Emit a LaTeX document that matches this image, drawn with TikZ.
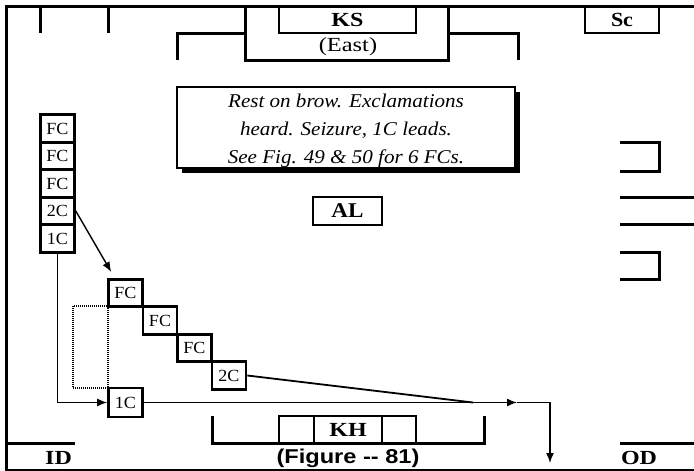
\documentclass[tikz,border=0pt]{standalone}
\usepackage{fontspec}
\setmainfont{Liberation Serif}
\newfontfamily\arialf{Liberation Sans}
\usetikzlibrary{arrows.meta}
\newcommand{\hsc}[2]{\scalebox{#1}[1]{#2}}
\begin{document}
\begin{tikzpicture}[x=1pt,y=-1pt,
  struct/.style={line width=3pt},
  cbox/.style={draw,line width=2.6pt,inner sep=0pt,minimum width=34pt,minimum height=27.5pt,font=\fontsize{17}{17}\selectfont},
  lbox/.style={draw,line width=2.8pt,inner sep=0pt},
  bfont/.style={font=\fontsize{20}{20}\selectfont\bfseries},
  arr/.style={line width=1.4pt,-{Latex[length=10pt,width=8pt]}},
  conn/.style={line width=1.4pt}]
\useasboundingbox (0,0) rectangle (694,471);
% frame
\draw[struct] (694,6) -- (6,6) -- (6,471);
\draw[line width=1.5pt] (5,470) -- (694,470);
% top ticks
\draw[struct] (40,6) -- (40,33);
\draw[struct] (108,6) -- (108,33);
% KS structure
\draw[struct] (245,6) -- (245,60) -- (448,60) -- (448,6);
\draw[struct] (245,33) -- (177,33) -- (177,60);
\draw[struct] (448,33) -- (518,33) -- (518,60);
\node[lbox,minimum width=137pt,minimum height=27pt,bfont] (ks) at (347.5,19.5) {\hsc{1.2}{KS}};
\node[font=\fontsize{20}{20}\selectfont] (east) at (348,46.5) {\hsc{1.22}{(East)}};
% Sc
\node[lbox,minimum width=74pt,minimum height=27pt,bfont] (sc) at (622,19.5) {\hsc{1.1}{Sc}};
% note box with shadow
\fill[black] (182,92) rectangle (520,173);
\node[draw,fill=white,line width=1.3pt,minimum width=338pt,minimum height=81pt,inner sep=0pt] (note) at (346,127.5) {};
\node[inner sep=0pt,align=center,font=\fontsize{19.5}{28}\selectfont\itshape] (notetext) at (346,131)
  {\hsc{1.08}{Rest on brow. Exclamations}\\\hsc{1.08}{heard. Seizure, 1C leads.}\\\hsc{1.08}{See Fig. 49 \& 50 for 6 FCs.}};
% AL
\node[lbox,minimum width=69pt,minimum height=28pt,font=\fontsize{21}{21}\selectfont\bfseries] (al) at (347.5,211) {\hsc{1.1}{AL}};
% left stack
\node[cbox] (l1) at (57.5,128.5) {\hsc{1.06}{FC}};
\node[cbox] (l2) at (57.5,156) {\hsc{1.06}{FC}};
\node[cbox] (l3) at (57.5,183.5) {\hsc{1.06}{FC}};
\node[cbox] (l4) at (57.5,211) {\hsc{1.06}{2C}};
\node[cbox] (l5) at (57.5,238.5) {\hsc{1.06}{1C}};
% staircase
\node[cbox] (s1) at (125.5,293) {\hsc{1.06}{FC}};
\node[cbox] (s2) at (160,320.5) {\hsc{1.06}{FC}};
\node[cbox] (s3) at (194.5,348) {\hsc{1.06}{FC}};
\node[cbox] (s4) at (229,375.5) {\hsc{1.06}{2C}};
\node[cbox,minimum height=29pt] (b1) at (125.5,402.5) {\hsc{1.06}{1C}};
% dotted rectangle
\draw[line width=2.2pt,dash pattern=on 1pt off 1pt] (73,306) rectangle (108,388);
% connectors
\draw[arr] (l4.east) -- ([xshift=4pt,yshift=6pt]s1.north west);
\draw[arr] (l5.south) |- (b1.west);
\coordinate (j) at (473,402.5);
\coordinate (m) at (517,402.5);
\coordinate (c) at (550,402.5);
\coordinate (e) at (550,463);
\draw[line width=1.8pt] (s4.east) -- (j);
\draw[arr] (b1.east) -- (m);
\draw[arr] (m) -- (c) -- (e);
% KH structure
\draw[struct] (212,416) -- (212,443) -- (484,443) -- (484,416);
\node[lbox,minimum width=35pt,minimum height=27pt] (khl) at (296.5,429.5) {};
\node[lbox,minimum width=68pt,minimum height=27pt,bfont] (kh) at (348,429.5) {\hsc{1.2}{KH}};
\node[lbox,minimum width=34pt,minimum height=27pt] (khr) at (399,429.5) {};
% ID / OD
\draw[struct] (6,443) -- (75,443);
\draw[struct] (620,443) -- (694,443);
\node[bfont] (id) at (58.5,458) {\hsc{1.2}{ID}};
\node[bfont] (od) at (639,458) {\hsc{1.2}{OD}};
\node[font=\fontsize{20}{20}\selectfont\arialf\bfseries] (fig) at (348,458) {\hsc{1.18}{(Figure -- 81)}};
% right brackets
\draw[struct] (620,142) -- (659,142) -- (659,171) -- (620,171);
\draw[struct] (620,197) -- (694,197);
\draw[struct] (620,224) -- (694,224);
\draw[struct] (620,252) -- (659,252) -- (659,279) -- (620,279);
\end{tikzpicture}
\end{document}
